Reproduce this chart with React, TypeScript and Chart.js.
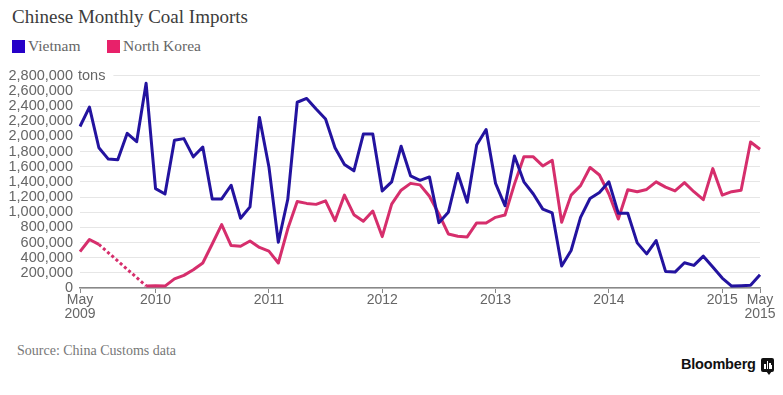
import React, { useEffect, useRef } from 'react';
import { Chart, registerables } from 'chart.js';

Chart.register(...registerables);

// Monthly categories, May 2009 – May 2015
const months: string[] = [
  'May 2009', 'Jun 2009', 'Jul 2009', 'Aug 2009', 'Sep 2009', 'Oct 2009', 'Nov 2009', 'Dec 2009',
  'Jan 2010', 'Feb 2010', 'Mar 2010', 'Apr 2010', 'May 2010', 'Jun 2010', 'Jul 2010', 'Aug 2010', 'Sep 2010', 'Oct 2010', 'Nov 2010', 'Dec 2010',
  'Jan 2011', 'Feb 2011', 'Mar 2011', 'Apr 2011', 'May 2011', 'Jun 2011', 'Jul 2011', 'Aug 2011', 'Sep 2011', 'Oct 2011', 'Nov 2011', 'Dec 2011',
  'Jan 2012', 'Feb 2012', 'Mar 2012', 'Apr 2012', 'May 2012', 'Jun 2012', 'Jul 2012', 'Aug 2012', 'Sep 2012', 'Oct 2012', 'Nov 2012', 'Dec 2012',
  'Jan 2013', 'Feb 2013', 'Mar 2013', 'Apr 2013', 'May 2013', 'Jun 2013', 'Jul 2013', 'Aug 2013', 'Sep 2013', 'Oct 2013', 'Nov 2013', 'Dec 2013',
  'Jan 2014', 'Feb 2014', 'Mar 2014', 'Apr 2014', 'May 2014', 'Jun 2014', 'Jul 2014', 'Aug 2014', 'Sep 2014', 'Oct 2014', 'Nov 2014', 'Dec 2014',
  'Jan 2015', 'Feb 2015', 'Mar 2015', 'Apr 2015', 'May 2015',
];

// Vietnam coal imports (tons)
const vietnam: number[] = [
  2130000, 2385000, 1850000, 1700000, 1690000, 2040000, 1930000, 2700000,
  1310000, 1240000, 1950000, 1970000, 1730000, 1860000, 1175000, 1175000, 1355000, 920000, 1070000, 2250000,
  1600000, 604000, 1170000, 2450000, 2500000, 2360000, 2230000, 1850000, 1630000, 1545000, 2030000, 2030000,
  1280000, 1400000, 1870000, 1480000, 1420000, 1465000, 862000, 998000, 1510000, 1130000, 1886000, 2090000,
  1380000, 1085000, 1740000, 1400000, 1240000, 1040000, 990000, 290000, 495000, 932000, 1180000, 1260000,
  1400000, 985000, 985000, 595000, 450000, 626000, 219000, 210000, 333000, 298000, 420000, 276000,
  131000, 26000, 30000, 35000, 175000,
];

// North Korea coal imports (tons); null = no data (dotted)
const northKorea: (number | null)[] = [
  480000, 640000, 575000, null, null, null, null, 28000,
  30000, 25000, 120000, 166000, 240000, 330000, 580000, 836000, 560000, 550000, 620000, 535000,
  486000, 330000, 780000, 1140000, 1116000, 1103000, 1150000, 888000, 1225000, 967000, 880000, 1015000,
  678000, 1107000, 1290000, 1380000, 1360000, 1210000, 976000, 713000, 683000, 674000, 858000, 858000,
  932000, 963000, 1370000, 1730000, 1730000, 1610000, 1685000, 867000, 1225000, 1350000, 1590000, 1490000,
  1240000, 910000, 1295000, 1270000, 1300000, 1400000, 1330000, 1280000, 1390000, 1270000, 1165000, 1575000,
  1225000, 1270000, 1290000, 1925000, 1830000,
];

const xTickMonths: string[] = ['May 2009', 'Jan 2010', 'Jan 2011', 'Jan 2012', 'Jan 2013', 'Jan 2014', 'Jan 2015', 'May 2015'];
const xTickText: string[][] = [['May', '2009'], ['2010'], ['2011'], ['2012'], ['2013'], ['2014'], ['2015'], ['May', '2015']];

const yMax = 2800000;
const yStep = 200000;
const yUnit = 'tons';

const VN_COLOR = '#23139f';
const VN_LEGEND = '#2600c8';
const NK_COLOR = '#d62e6c';
const NK_LEGEND = '#e8216a';

const SANS = '"Liberation Sans", Arial, sans-serif';
const SERIF = '"Liberation Serif", "Times New Roman", serif';

const unitPlugin = {
  id: 'unitLabel',
  afterDatasetsDraw(chart: any) {
    const { ctx, chartArea, scales } = chart;
    const y = scales.y.getPixelForValue(yMax);
    ctx.save();
    ctx.font = `14.5px ${SANS}`;
    const w = ctx.measureText(yUnit).width;
    ctx.fillStyle = '#ffffff';
    ctx.fillRect(chartArea.left - 2, y - 3, w + 8, 6);
    ctx.fillStyle = '#666666';
    ctx.textBaseline = 'middle';
    ctx.textAlign = 'left';
    ctx.fillText(yUnit, chartArea.left - 2, y);
    ctx.restore();
  },
};

export default function App() {
  const canvasRef = useRef<HTMLCanvasElement | null>(null);

  useEffect(() => {
    const canvas = canvasRef.current;
    if (!canvas) return;
    const chart = new Chart(canvas, {
      type: 'line',
      data: {
        labels: months,
        datasets: [
          {
            label: 'Vietnam',
            data: vietnam,
            borderColor: VN_COLOR,
            backgroundColor: VN_COLOR,
            borderWidth: 3,
            pointRadius: 0,
            tension: 0,
            borderJoinStyle: 'round',
          },
          {
            label: 'North Korea',
            data: northKorea,
            borderColor: NK_COLOR,
            backgroundColor: NK_COLOR,
            borderWidth: 3,
            pointRadius: 0,
            tension: 0,
            spanGaps: true,
            borderJoinStyle: 'round',
            segment: {
              borderDash: (ctx: any) => (ctx.p0.skip || ctx.p1.skip ? [3, 2.6] : undefined),
            },
          },
        ],
      },
      options: {
        animation: false,
        responsive: false,
        maintainAspectRatio: false,
        devicePixelRatio: 1,
        layout: { padding: { top: 14, right: 23, bottom: 0, left: 0 } },
        plugins: {
          legend: { display: false },
          tooltip: { enabled: false },
        },
        scales: {
          x: {
            type: 'category',
            offset: false,
            grid: { drawOnChartArea: false, drawTicks: true, tickLength: 5, color: '#888888', lineWidth: 1 },
            border: { display: true, color: '#888888', width: 1.5 },
            ticks: {
              autoSkip: false,
              maxRotation: 0,
              minRotation: 0,
              padding: 0,
              color: '#666666',
              font: { family: SANS, size: 14, lineHeight: 1.0 },
              callback: (_v: any, index: number) => {
                const k = xTickMonths.indexOf(months[index]);
                return k >= 0 ? xTickText[k] : null;
              },
            },
            afterFit: (s: any) => {
              s.height = 50;
            },
          },
          y: {
            min: 0,
            max: yMax,
            grid: { color: '#e6e6e6', lineWidth: 1, drawTicks: false },
            border: { display: false },
            ticks: {
              stepSize: yStep,
              autoSkip: false,
              maxTicksLimit: 30,
              padding: 7,
              color: '#666666',
              font: { family: SANS, size: 14.5 },
              callback: (v: any) => Number(v).toLocaleString('en-US'),
            },
            afterFit: (s: any) => {
              s.width = 80;
            },
          },
        },
      },
      plugins: [unitPlugin],
    } as any);
    return () => chart.destroy();
  }, []);

  return (
    <div style={{ position: 'absolute', left: 0, top: 0, width: 783, height: 395, background: '#fff', overflow: 'hidden' }}>
      <div style={{ position: 'absolute', left: 12, top: 6, fontFamily: SERIF, fontSize: 19, color: '#3c3c3c', whiteSpace: 'nowrap' }}>
        Chinese Monthly Coal Imports
      </div>
      <div style={{ position: 'absolute', left: 12, top: 40, width: 13, height: 13, background: VN_LEGEND }} />
      <div style={{ position: 'absolute', left: 28, top: 37, fontFamily: SERIF, fontSize: 15.5, color: '#666', whiteSpace: 'nowrap' }}>
        Vietnam
      </div>
      <div style={{ position: 'absolute', left: 107, top: 40, width: 13, height: 13, background: NK_LEGEND }} />
      <div style={{ position: 'absolute', left: 123, top: 37, fontFamily: SERIF, fontSize: 15.5, color: '#666', whiteSpace: 'nowrap' }}>
        North Korea
      </div>
      <canvas
        ref={canvasRef}
        width={783}
        height={278}
        style={{ position: 'absolute', left: 0, top: 60, width: 783, height: 278 }}
      />
      <div style={{ position: 'absolute', left: 17, top: 343, fontFamily: SERIF, fontSize: 14, color: '#777', whiteSpace: 'nowrap' }}>
        Source: China Customs data
      </div>
      <div style={{ position: 'absolute', left: 681, top: 356, fontFamily: SANS, fontWeight: 'bold', fontSize: 14.5, color: '#111', whiteSpace: 'nowrap', letterSpacing: -0.2 }}>
        Bloomberg
      </div>
      <div style={{ position: 'absolute', left: 761, top: 358, width: 13, height: 14, background: '#111', borderRadius: 2 }}>
        <div style={{ position: 'absolute', left: 3, top: 6, width: 1.5, height: 5, background: '#fff' }} />
        <div style={{ position: 'absolute', left: 5.5, top: 3, width: 1.5, height: 8, background: '#fff' }} />
        <div style={{ position: 'absolute', left: 8, top: 5, width: 1.5, height: 6, background: '#fff' }} />
        <div style={{ position: 'absolute', left: 10, top: 7, width: 1.2, height: 4, background: '#fff' }} />
      </div>
      <div style={{ position: 'absolute', left: 766, top: 371, width: 0, height: 0, borderLeft: '3px solid transparent', borderRight: '3px solid transparent', borderTop: '4px solid #111' }} />
    </div>
  );
}
